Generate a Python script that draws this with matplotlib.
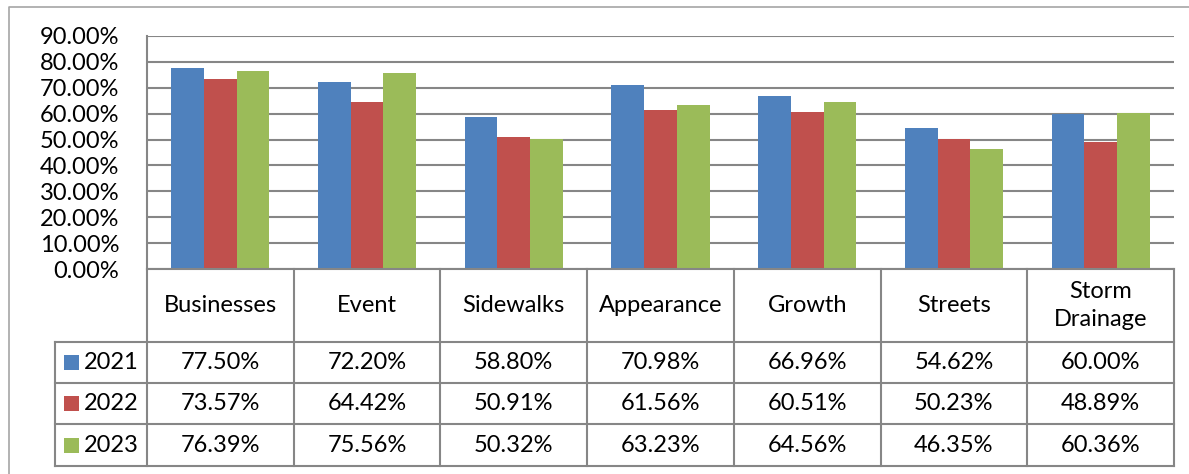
import matplotlib
matplotlib.use("Agg")
import matplotlib.pyplot as plt
from matplotlib.patches import Rectangle
import numpy as np

plt.rcParams['font.family'] = ['Lato', 'DejaVu Sans']

categories = ["Businesses", "Event", "Sidewalks", "Appearance", "Growth", "Streets", "Storm\nDrainage"]
years = ["2021", "2022", "2023"]
v2021 = [77.50, 72.20, 58.80, 70.98, 66.96, 54.62, 60.00]
v2022 = [73.57, 64.42, 50.91, 61.56, 60.51, 50.23, 48.89]
v2023 = [76.39, 75.56, 50.32, 63.23, 64.56, 46.35, 60.36]
series = [v2021, v2022, v2023]
colors = ["#4F81BD", "#C0504D", "#9BBB59"]
yticks = [0, 10, 20, 30, 40, 50, 60, 70, 80, 90]

W, H = 1189, 474
fig = plt.figure(figsize=(W / 100, H / 100), dpi=100)
grid_col = "#868686"
fs = 17

def px(x0, y0, x1, y1):
    # pixel box (top-left origin) -> figure fraction
    return [x0 / W, 1 - y1 / H, (x1 - x0) / W, (y1 - y0) / H]

# outer chart border
bg = fig.add_axes([0, 0, 1, 1])
bg.set_xlim(0, W)
bg.set_ylim(H, 0)
bg.axis("off")
bg.plot([9, 9, W], [H, 7, 7], color="#a6a6a6", lw=1.2)

# bars
ax = fig.add_axes(px(147, 36, 1174, 269))
x = np.arange(len(categories))
bw = 0.223
for i, (vals, c) in enumerate(zip(series, colors)):
    ax.bar(x + (i - 1) * bw, np.array(vals) / 100, bw, color=c, zorder=3, linewidth=0)
ax.set_xlim(-0.5, len(categories) - 0.5)
ax.set_ylim(0, 0.9)
ax.set_yticks(np.array(yticks) / 100)
ax.set_yticklabels([f"{t:.2f}%" for t in yticks], fontsize=fs)
ax.set_xticks([])
ax.yaxis.grid(True, color=grid_col, lw=1.5, zorder=0)
ax.tick_params(axis="y", length=0, pad=20)
for s in ["top", "right", "bottom"]:
    ax.spines[s].set_visible(False)
ax.spines["left"].set_color(grid_col)
ax.spines["left"].set_linewidth(1.5)

# data table below the plot
cat_px = (1174 - 147) / len(categories)
leg_w = 92 / cat_px
tb = fig.add_axes(px(55, 269, 1174, 466))
tb.set_xlim(-0.5 - leg_w, len(categories) - 0.5)
rows = [0, 73, 114, 155, 197]
tb.set_ylim(rows[-1], 0)
tb.axis("off")
lk = dict(color=grid_col, lw=1.5, solid_capstyle="projecting", clip_on=False)
tb.plot([-0.5, len(categories) - 0.5], [0, 0], **lk)
for r in rows[1:]:
    tb.plot([-0.5 - leg_w, len(categories) - 0.5], [r, r], **lk)
for b in np.arange(len(categories) + 1) - 0.5:
    tb.plot([b, b], [0, rows[-1]], **lk)
tb.plot([-0.5 - leg_w] * 2, [rows[1], rows[-1]], **lk)

for j, cat in enumerate(categories):
    tb.text(j, rows[1] / 2, cat, ha="center", va="center", fontsize=fs, linespacing=1.45)
x0 = -0.5 - leg_w
for i, (yr, vals, c) in enumerate(zip(years, series, colors)):
    yc = (rows[i + 1] + rows[i + 2]) / 2
    tb.add_patch(Rectangle((x0 + 9 / cat_px, yc - 7.5), 15 / cat_px, 15, color=c, lw=0))
    tb.text(x0 + 29 / cat_px, yc, yr, ha="left", va="center", fontsize=fs)
    for j, v in enumerate(vals):
        tb.text(j, yc, f"{v:.2f}%", ha="center", va="center", fontsize=fs)

fig.savefig("out.png", dpi=100)
